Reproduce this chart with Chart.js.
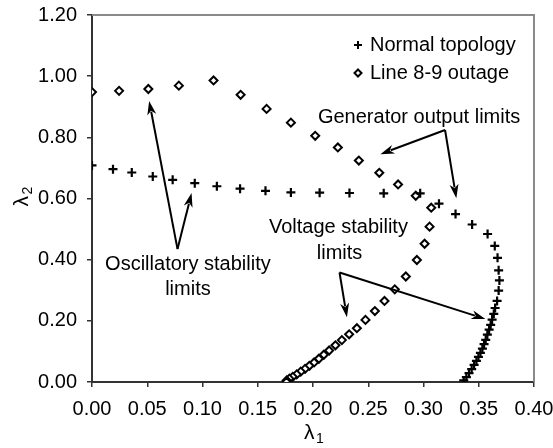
<!DOCTYPE html>
<html lang="en">

<head>
    <meta charset="UTF-8">
    <title>Stability limits</title>
    <script src="https://cdn.jsdelivr.net/npm/chart.js"></script>
    <style>
        html, body {
            margin: 0;
            padding: 0;
            background: #fff;
        }

        .chart-box {
            width: 553px;
            height: 448px;
        }
    </style>
</head>

<body>
    <div class="chart-box"><canvas id="limitsChart"></canvas></div>
    <script>
        // Normal topology (+ markers)
        const normalX = [0.000, 0.019, 0.036, 0.055, 0.073, 0.093, 0.113, 0.134, 0.157, 0.180, 0.206, 0.233,
            0.264, 0.297, 0.314, 0.329, 0.344, 0.358, 0.3645, 0.367, 0.368, 0.3687, 0.368,
            0.3666, 0.3648, 0.3636, 0.3621, 0.3608, 0.3594, 0.3578, 0.3563, 0.3548, 0.3533, 0.3515,
            0.3497, 0.3479, 0.3458, 0.3436, 0.3412, 0.3388, 0.3364];
        const normalY = [0.708, 0.696, 0.685, 0.672, 0.661, 0.650, 0.640, 0.632, 0.625, 0.620, 0.619, 0.618,
            0.617, 0.617, 0.583, 0.549, 0.515, 0.484, 0.445, 0.406, 0.365, 0.332, 0.299,
            0.265, 0.242, 0.223, 0.204, 0.187, 0.171, 0.155, 0.138, 0.124, 0.109, 0.095,
            0.082, 0.069, 0.056, 0.042, 0.029, 0.016, 0.005];

        // Line 8-9 outage (diamond markers)
        const outageX = [0.000, 0.0245, 0.051, 0.0786, 0.110, 0.1345, 0.158, 0.180, 0.202, 0.2225, 0.2415,
            0.260, 0.277, 0.293, 0.307, 0.3055, 0.301, 0.294, 0.284, 0.274, 0.2647, 0.256, 0.2475,
            0.2397, 0.2327, 0.2261, 0.2203, 0.2146, 0.2098, 0.2053, 0.201, 0.1967, 0.1928, 0.1889,
            0.1853, 0.1817, 0.1786, 0.1762, 0.176];
        const outageY = [0.948, 0.952, 0.958, 0.969, 0.986, 0.939, 0.893, 0.848, 0.805, 0.767, 0.724,
            0.684, 0.646, 0.609, 0.570, 0.508, 0.452, 0.399, 0.345, 0.303, 0.265, 0.232, 0.203,
            0.176, 0.156, 0.137, 0.120, 0.103, 0.089, 0.076, 0.064, 0.053, 0.043, 0.034,
            0.025, 0.017, 0.011, 0.005, 0.000];

        const xTicks = [0, 0.05, 0.10, 0.15, 0.20, 0.25, 0.30, 0.35, 0.40];
        const yTicks = [0, 0.20, 0.40, 0.60, 0.80, 1.00, 1.20];
        const seriesNames = ['Normal topology', 'Line 8-9 outage'];

        const FONT = '"Liberation Sans", Arial, sans-serif';

        // annotations, in data units
        const notes = [
            { text: 'Generator output limits', x: 0.296, y: 0.866 },
            { text: 'Voltage stability', x: 0.223, y: 0.504 },
            { text: 'limits', x: 0.224, y: 0.421 },
            { text: 'Oscillatory stability', x: 0.0868, y: 0.383 },
            { text: 'limits', x: 0.0868, y: 0.302 }
        ];
        const arrows = [
            [0.3195, 0.824, 0.261, 0.745],
            [0.3195, 0.824, 0.3297, 0.601],
            [0.224, 0.358, 0.2307, 0.212],
            [0.224, 0.358, 0.356, 0.206],
            [0.0774, 0.4346, 0.0517, 0.919],
            [0.0774, 0.4346, 0.0901, 0.618]
        ];

        const toPoints = (xs, ys) => xs.map((v, i) => ({ x: v, y: ys[i] }));

        function drawArrow(ctx, x1, y1, x2, y2) {
            const ang = Math.atan2(y2 - y1, x2 - x1);
            const len = 14, half = 4.5;
            const bx = x2 - len * Math.cos(ang), by = y2 - len * Math.sin(ang);
            ctx.beginPath();
            ctx.moveTo(x1, y1);
            ctx.lineTo(bx + 3 * Math.cos(ang), by + 3 * Math.sin(ang));
            ctx.stroke();
            ctx.beginPath();
            ctx.moveTo(x2, y2);
            ctx.lineTo(bx + half * Math.sin(ang), by - half * Math.cos(ang));
            ctx.lineTo(bx + 4 * Math.cos(ang), by + 4 * Math.sin(ang));
            ctx.lineTo(bx - half * Math.sin(ang), by + half * Math.cos(ang));
            ctx.closePath();
            ctx.fill();
        }

        const decorPlugin = {
            id: 'decor',
            afterDraw(chart) {
                const { ctx, chartArea: a, scales: { x, y } } = chart;
                ctx.save();

                // grey top/right frame
                ctx.strokeStyle = '#8a8a8a';
                ctx.lineWidth = 2;
                ctx.beginPath();
                ctx.moveTo(a.left, a.top);
                ctx.lineTo(a.right, a.top);
                ctx.lineTo(a.right, a.bottom);
                ctx.stroke();

                ctx.fillStyle = '#000';
                ctx.strokeStyle = '#000';

                // legend
                const lx = a.right - 176, ly1 = a.top + 30, ly2 = a.top + 58;
                ctx.lineWidth = 2;
                ctx.beginPath();
                ctx.moveTo(lx - 4, ly1); ctx.lineTo(lx + 4, ly1);
                ctx.moveTo(lx, ly1 - 4); ctx.lineTo(lx, ly1 + 4);
                ctx.stroke();
                ctx.beginPath();
                ctx.moveTo(lx, ly2 - 3.5); ctx.lineTo(lx + 3.5, ly2);
                ctx.lineTo(lx, ly2 + 3.5); ctx.lineTo(lx - 3.5, ly2);
                ctx.closePath();
                ctx.fillStyle = '#fff';
                ctx.fill();
                ctx.stroke();
                ctx.fillStyle = '#000';
                ctx.font = '20px ' + FONT;
                ctx.textAlign = 'left';
                ctx.textBaseline = 'middle';
                ctx.fillText(seriesNames[0], lx + 12, ly1);
                ctx.fillText(seriesNames[1], lx + 12, ly2);

                // annotation text
                ctx.textAlign = 'center';
                notes.forEach(n => {
                    ctx.fillText(n.text, x.getPixelForValue(n.x), y.getPixelForValue(n.y));
                });

                // arrows
                ctx.lineWidth = 2;
                arrows.forEach(r => {
                    drawArrow(ctx, x.getPixelForValue(r[0]), y.getPixelForValue(r[1]),
                        x.getPixelForValue(r[2]), y.getPixelForValue(r[3]));
                });

                // axis titles with subscripts
                const cx = (a.left + a.right) / 2;
                ctx.textAlign = 'left';
                ctx.textBaseline = 'alphabetic';
                ctx.font = '21px ' + FONT;
                ctx.fillText('\u03bb', cx - 9, a.bottom + 57);
                ctx.font = '14px ' + FONT;
                ctx.fillText('1', cx + 3, a.bottom + 61);

                const cy = (a.top + a.bottom) / 2;
                ctx.translate(28, cy);
                ctx.rotate(-Math.PI / 2);
                ctx.font = '21px ' + FONT;
                ctx.fillText('\u03bb', -8, 0);
                ctx.font = '14px ' + FONT;
                ctx.fillText('2', 4, 4);

                ctx.restore();
            }
        };

        const tickFont = { family: FONT, size: 20 };

        new Chart(document.getElementById('limitsChart'), {
            type: 'scatter',
            data: {
                datasets: [{
                    label: seriesNames[0],
                    data: toPoints(normalX, normalY),
                    pointStyle: 'cross',
                    pointRadius: 4.5,
                    borderColor: '#000',
                    backgroundColor: '#000',
                    pointBorderWidth: 2.2
                }, {
                    label: seriesNames[1],
                    data: toPoints(outageX, outageY),
                    pointStyle: 'rectRot',
                    pointRadius: 4,
                    borderColor: '#000',
                    backgroundColor: '#fff',
                    pointBorderWidth: 2
                }]
            },
            options: {
                responsive: true,
                maintainAspectRatio: false,
                animation: false,
                layout: {
                    padding: { top: 15, right: 19, left: 0, bottom: 0 }
                },
                plugins: {
                    legend: { display: false },
                    tooltip: { enabled: false }
                },
                scales: {
                    x: {
                        type: 'linear',
                        min: 0,
                        max: 0.4,
                        afterBuildTicks: s => { s.ticks = xTicks.map(v => ({ value: v })); },
                        afterFit: s => {
                            s.height = 66;
                            s.paddingLeft = 0;
                            s.paddingRight = 0;
                        },
                        ticks: {
                            font: tickFont,
                            color: '#000',
                            padding: 10,
                            maxRotation: 0,
                            autoSkip: false,
                            callback: v => v.toFixed(2)
                        },
                        grid: {
                            drawOnChartArea: false,
                            drawTicks: true,
                            tickLength: 5,
                            color: '#333',
                            lineWidth: 1.5
                        },
                        border: { color: '#333', width: 2 }
                    },
                    y: {
                        type: 'linear',
                        min: 0,
                        max: 1.2,
                        afterBuildTicks: s => { s.ticks = yTicks.map(v => ({ value: v })); },
                        afterFit: s => {
                            s.width = 92;
                            s.paddingTop = 0;
                            s.paddingBottom = 0;
                        },
                        ticks: {
                            font: tickFont,
                            color: '#000',
                            padding: 10,
                            autoSkip: false,
                            callback: v => v.toFixed(2)
                        },
                        grid: {
                            drawOnChartArea: false,
                            drawTicks: true,
                            tickLength: 5,
                            color: '#333',
                            lineWidth: 1.5
                        },
                        border: { color: '#333', width: 2 }
                    }
                }
            },
            plugins: [decorPlugin]
        });
    </script>
</body>

</html>
